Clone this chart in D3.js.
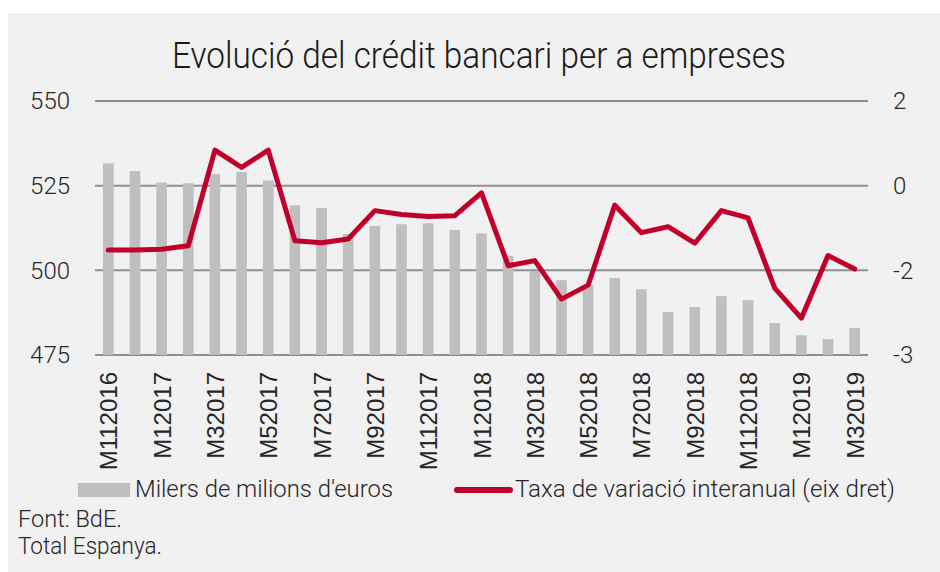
<!DOCTYPE html>
<html lang="ca">
<head>
<meta charset="UTF-8">
<title>Evolució del crédit bancari per a empreses</title>
<script src="https://cdn.jsdelivr.net/npm/d3@7"></script>
<style>
    body { margin: 0; padding: 0; background: #ffffff; }
    svg { display: block; font-family: Roboto, "Open Sans", sans-serif; font-weight: 300; }
    .tick text { fill: #262626; }
</style>
</head>
<body>
<svg id="chart" width="940" height="572"></svg>
<script>
// dades
const months = [
    "M112016", "M122016", "M12017", "M22017", "M32017", "M42017", "M52017", "M62017",
    "M72017", "M82017", "M92017", "M102017", "M112017", "M122017", "M12018", "M22018",
    "M32018", "M42018", "M52018", "M62018", "M72018", "M82018", "M92018", "M102018",
    "M112018", "M122018", "M12019", "M22019", "M32019"
];
// milers de milions d'euros
const credit = [
    531.6, 529.3, 525.9, 525.7, 528.4, 529.0, 526.5, 519.2,
    518.4, 510.7, 513.1, 513.6, 513.9, 511.9, 510.9, 504.3,
    499.8, 497.1, 495.7, 497.7, 494.4, 487.7, 489.2, 492.4,
    491.2, 484.4, 480.8, 479.7, 483.0
];
// taxa de variació interanual (%)
const taxa = [
    -1.52, -1.52, -1.50, -1.42, 0.84, 0.43, 0.84, -1.30,
    -1.35, -1.26, -0.59, -0.68, -0.73, -0.71, -0.17, -1.89,
    -1.77, -2.68, -2.35, -0.46, -1.11, -0.97, -1.36, -0.59,
    -0.76, -2.42, -3.13, -1.65, -1.97
];
const leftTicks = [475, 500, 525, 550];
const rightTicks = [2, 0, -2, -4];
const rightTickLabels = ["2", "0", "-2", "-3"];

const svg = d3.select("#chart");
const W = 940, H = 572;
const m = { top: 101, right: 72, bottom: 217, left: 95 };
const plotW = W - m.left - m.right;
const plotH = H - m.top - m.bottom;

svg.append("rect")
    .attr("x", 8).attr("y", 13)
    .attr("width", W - 8).attr("height", H - 13)
    .attr("fill", "#f1f1f1");

svg.append("text")
    .attr("x", 479).attr("y", 68)
    .attr("text-anchor", "middle")
    .attr("font-size", 37)
    .attr("fill", "#1a1a1a")
    .attr("textLength", 614)
    .attr("lengthAdjust", "spacingAndGlyphs")
    .text("Evolució del crédit bancari per a empreses");

const g = svg.append("g").attr("transform", `translate(${m.left},${m.top})`);

const x = d3.scaleBand().domain(months).range([0, plotW]).paddingInner(0.6).paddingOuter(0.3);
const yL = d3.scaleLinear().domain([475, 550]).range([plotH, 0]);
const yR = d3.scaleLinear().domain([-4, 2]).range([plotH, 0]);

// línies de graella
g.append("g")
    .selectAll("line")
    .data(leftTicks)
    .join("line")
    .attr("x1", 0).attr("x2", plotW)
    .attr("y1", d => yL(d)).attr("y2", d => yL(d))
    .attr("stroke", "#8f8f8f")
    .attr("stroke-width", 2);

// eix esquerre
const axL = g.append("g")
    .call(d3.axisLeft(yL).tickValues(leftTicks).tickSize(0).tickPadding(25));
axL.select(".domain").remove();
axL.selectAll("text").attr("font-size", 24).attr("font-family", "Roboto, sans-serif");

// eix dret
const axR = g.append("g")
    .attr("transform", `translate(${plotW},0)`)
    .call(d3.axisRight(yR).tickValues(rightTicks).tickSize(0).tickPadding(25)
        .tickFormat((d, i) => rightTickLabels[i]));
axR.select(".domain").remove();
axR.selectAll("text").attr("font-size", 24).attr("font-family", "Roboto, sans-serif");

// barres
g.append("g")
    .selectAll("rect")
    .data(credit)
    .join("rect")
    .attr("x", (d, i) => x(months[i]))
    .attr("width", x.bandwidth())
    .attr("y", d => yL(d))
    .attr("height", d => plotH - yL(d))
    .attr("fill", "#bfbfbf");

// línia
const line = d3.line()
    .x((d, i) => x(months[i]) + x.bandwidth() / 2)
    .y(d => yR(d));
g.append("path")
    .datum(taxa)
    .attr("d", line)
    .attr("fill", "none")
    .attr("stroke", "#c0002b")
    .attr("stroke-width", 5)
    .attr("stroke-linejoin", "round")
    .attr("stroke-linecap", "round");

// eix X
const axX = g.append("g")
    .attr("transform", `translate(0,${plotH})`)
    .call(d3.axisBottom(x).tickValues(months.filter((d, i) => i % 2 === 0)).tickSize(0));
axX.select(".domain").remove();
axX.selectAll("text")
    .attr("font-size", 24)
    .attr("text-anchor", "end")
    .attr("dy", 0)
    .attr("transform", "translate(9,17) rotate(-90)")
    .attr("x", 0).attr("y", 0);

// llegenda
const leg = svg.append("g");
leg.append("rect")
    .attr("x", 78).attr("y", 483).attr("width", 52).attr("height", 14)
    .attr("fill", "#bfbfbf");
leg.append("text")
    .attr("x", 135).attr("y", 497)
    .attr("font-size", 23).attr("fill", "#262626")
    .attr("textLength", 258).attr("lengthAdjust", "spacingAndGlyphs")
    .text("Milers de milions d'euros");
leg.append("line")
    .attr("x1", 457).attr("x2", 510).attr("y1", 490).attr("y2", 490)
    .attr("stroke", "#c0002b").attr("stroke-width", 6).attr("stroke-linecap", "round");
leg.append("text")
    .attr("x", 515).attr("y", 497)
    .attr("font-size", 23).attr("fill", "#262626")
    .attr("textLength", 380).attr("lengthAdjust", "spacingAndGlyphs")
    .text("Taxa de variació interanual (eix dret)");

// notes
svg.append("text")
    .attr("x", 18).attr("y", 527)
    .attr("font-size", 23).attr("fill", "#262626")
    .attr("textLength", 104).attr("lengthAdjust", "spacingAndGlyphs")
    .text("Font: BdE.");
svg.append("text")
    .attr("x", 18).attr("y", 554)
    .attr("font-size", 23).attr("fill", "#262626")
    .attr("textLength", 144).attr("lengthAdjust", "spacingAndGlyphs")
    .text("Total Espanya.");
</script>
</body>
</html>
